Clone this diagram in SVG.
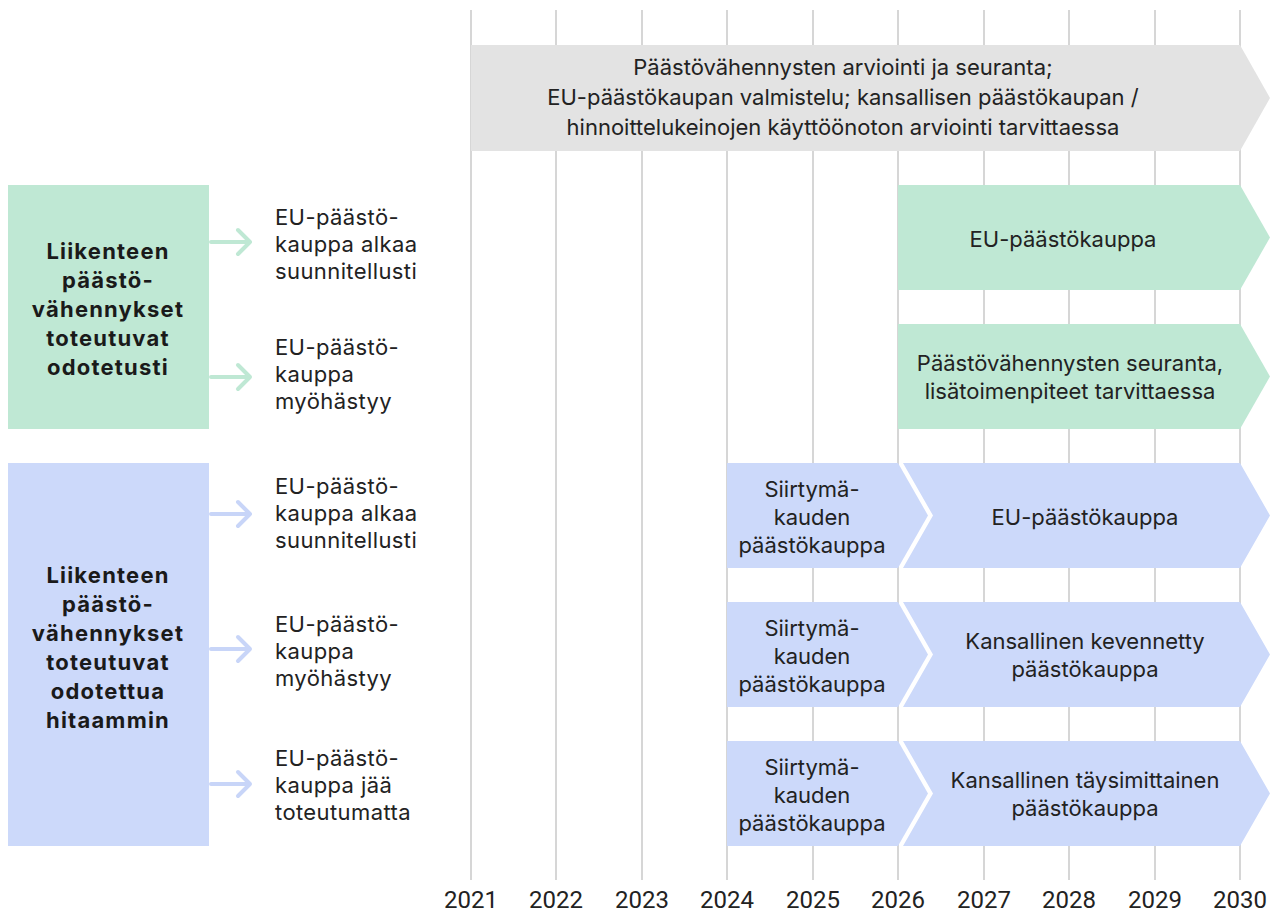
<svg xmlns="http://www.w3.org/2000/svg" width="1274" height="917" viewBox="0 0 1274 917">
<style>
.grid{stroke:#c9c9c9;stroke-width:1.5}
.t{font-family:Inter,"Liberation Sans",sans-serif;font-size:22px;fill:#222}
.c{text-anchor:middle}
.lb{letter-spacing:0.4px}
.b{font-family:Inter,"Liberation Sans",sans-serif;font-size:22px;font-weight:bold;fill:#1a1a1a;text-anchor:middle;letter-spacing:1.2px}
.yr{font-family:Roboto,"Liberation Sans",sans-serif;font-size:24px;fill:#222;text-anchor:middle}
.g{fill:#bfe8d4}
.bl{fill:#ccd9fa}
.ag{stroke:#bfe8d4;stroke-width:4;fill:none;stroke-linecap:round;stroke-linejoin:round}
.ab{stroke:#c8d5f8;stroke-width:4;fill:none;stroke-linecap:round;stroke-linejoin:round}
</style>
<rect width="1274" height="917" fill="#fff"/>
<g id="grid">
<line class="grid" x1="471" y1="10" x2="471" y2="880"/>
<line class="grid" x1="556" y1="10" x2="556" y2="880"/>
<line class="grid" x1="642" y1="10" x2="642" y2="880"/>
<line class="grid" x1="727" y1="10" x2="727" y2="880"/>
<line class="grid" x1="813" y1="10" x2="813" y2="880"/>
<line class="grid" x1="898" y1="10" x2="898" y2="880"/>
<line class="grid" x1="984" y1="10" x2="984" y2="880"/>
<line class="grid" x1="1069" y1="10" x2="1069" y2="880"/>
<line class="grid" x1="1155" y1="10" x2="1155" y2="880"/>
<line class="grid" x1="1240" y1="10" x2="1240" y2="880"/>
</g>
<g id="years">
<text class="yr" x="471" y="908">2021</text>
<text class="yr" x="556" y="908">2022</text>
<text class="yr" x="642" y="908">2023</text>
<text class="yr" x="727" y="908">2024</text>
<text class="yr" x="813" y="908">2025</text>
<text class="yr" x="898" y="908">2026</text>
<text class="yr" x="984" y="908">2027</text>
<text class="yr" x="1069" y="908">2028</text>
<text class="yr" x="1155" y="908">2029</text>
<text class="yr" x="1240" y="908">2030</text>
</g>
<g id="top-bar">
<polygon points="471,45 1240,45 1270,98 1240,151 471,151" fill="#e3e3e3"/>
<text class="t c" x="843" y="75">Päästövähennysten arviointi ja seuranta;</text>
<text class="t c" x="843" y="105">EU-päästökaupan valmistelu; kansallisen päästökaupan /</text>
<text class="t c" x="843" y="135">hinnoittelukeinojen käyttöönoton arviointi tarvittaessa</text>
</g>
<g id="green-box">
<rect class="g" x="8" y="185" width="201" height="244"/>
<text class="b" x="108" y="259">Liikenteen</text>
<text class="b" x="108" y="288">päästö-</text>
<text class="b" x="108" y="317">vähennykset</text>
<text class="b" x="108" y="346">toteutuvat</text>
<text class="b" x="108" y="375">odotetusti</text>
</g>
<g id="blue-box">
<rect class="bl" x="8" y="463" width="201" height="383"/>
<text class="b" x="108" y="583">Liikenteen</text>
<text class="b" x="108" y="612">päästö-</text>
<text class="b" x="108" y="641">vähennykset</text>
<text class="b" x="108" y="670">toteutuvat</text>
<text class="b" x="108" y="699">odotettua</text>
<text class="b" x="108" y="728">hitaammin</text>
</g>
<g id="connectors">
<path class="ag" d="M211,242 H250 M238,230 L250,242 L238,254"/>
<path class="ag" d="M211,377 H250 M238,365 L250,377 L238,389"/>
<path class="ab" d="M211,514 H250 M238,502 L250,514 L238,526"/>
<path class="ab" d="M211,649 H250 M238,637 L250,649 L238,661"/>
<path class="ab" d="M211,784 H250 M238,772 L250,784 L238,796"/>
</g>
<g id="labels">
<text class="t lb" x="275" y="225">EU-päästö-</text>
<text class="t lb" x="275" y="252">kauppa alkaa</text>
<text class="t lb" x="275" y="279">suunnitellusti</text>
<text class="t lb" x="275" y="355">EU-päästö-</text>
<text class="t lb" x="275" y="382">kauppa</text>
<text class="t lb" x="275" y="409">myöhästyy</text>
<text class="t lb" x="275" y="494">EU-päästö-</text>
<text class="t lb" x="275" y="521">kauppa alkaa</text>
<text class="t lb" x="275" y="548">suunnitellusti</text>
<text class="t lb" x="275" y="632">EU-päästö-</text>
<text class="t lb" x="275" y="659">kauppa</text>
<text class="t lb" x="275" y="686">myöhästyy</text>
<text class="t lb" x="275" y="766">EU-päästö-</text>
<text class="t lb" x="275" y="793">kauppa jää</text>
<text class="t lb" x="275" y="820">toteutumatta</text>
</g>
<g id="green-bar-1">
<polygon class="g" points="898,185 1240,185 1270,237.5 1240,290 898,290"/>
<text class="t c" x="1063" y="247">EU-päästökauppa</text>
</g>
<g id="green-bar-2">
<polygon class="g" points="898,324 1240,324 1270,376.5 1240,429 898,429"/>
<text class="t c" x="1070" y="371">Päästövähennysten seuranta,</text>
<text class="t c" x="1070" y="399">lisätoimenpiteet tarvittaessa</text>
</g>
<g id="blue-row-1">
<polygon class="bl" points="727,463 898,463 928,515.5 898,568 727,568"/>
<text class="t c" x="812" y="497">Siirtymä-</text>
<text class="t c" x="812" y="525">kauden</text>
<text class="t c" x="812" y="553">päästökauppa</text>
<polygon class="bl" points="903,463 1240,463 1270,515.5 1240,568 903,568 933,515.5"/>
<text class="t c" x="1085" y="525">EU-päästökauppa</text>
</g>
<g id="blue-row-2">
<polygon class="bl" points="727,602 898,602 928,654.5 898,707 727,707"/>
<text class="t c" x="812" y="636">Siirtymä-</text>
<text class="t c" x="812" y="664">kauden</text>
<text class="t c" x="812" y="692">päästökauppa</text>
<polygon class="bl" points="903,602 1240,602 1270,654.5 1240,707 903,707 933,654.5"/>
<text class="t c" x="1085" y="649">Kansallinen kevennetty</text>
<text class="t c" x="1085" y="677">päästökauppa</text>
</g>
<g id="blue-row-3">
<polygon class="bl" points="727,741 898,741 928,793.5 898,846 727,846"/>
<text class="t c" x="812" y="775">Siirtymä-</text>
<text class="t c" x="812" y="803">kauden</text>
<text class="t c" x="812" y="831">päästökauppa</text>
<polygon class="bl" points="903,741 1240,741 1270,793.5 1240,846 903,846 933,793.5"/>
<text class="t c" x="1085" y="788">Kansallinen täysimittainen</text>
<text class="t c" x="1085" y="816">päästökauppa</text>
</g>
</svg>
